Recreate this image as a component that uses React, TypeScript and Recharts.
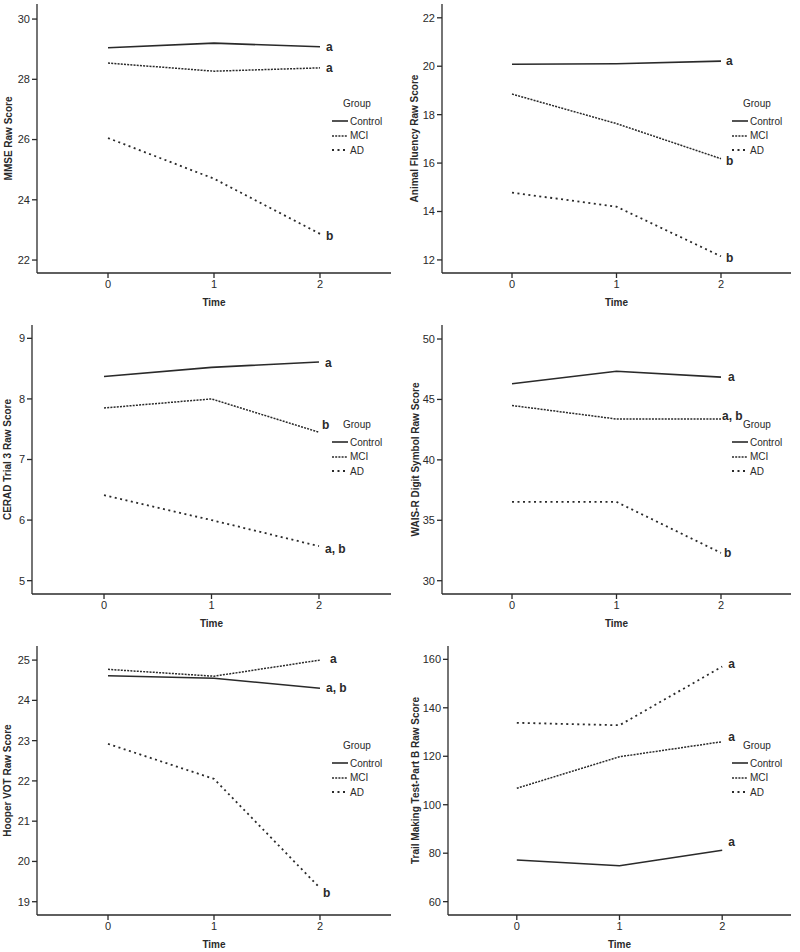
import { LineChart, Line, XAxis, YAxis, Legend, Label, LabelList } from "recharts"

const times = [0, 1, 2]
const groups = ["Control", "MCI", "AD"]

const mmseControl = [29.05, 29.2, 29.08]
const mmseMci = [28.54, 28.27, 28.38]
const mmseAd = [26.05, 24.7, 22.87]
const mmseTicks = [22, 24, 26, 28, 30]
const mmseLetters = ["a", "a", "b"]

const fluencyControl = [20.08, 20.1, 20.21]
const fluencyMci = [18.85, 17.63, 16.18]
const fluencyAd = [14.78, 14.2, 12.15]
const fluencyTicks = [12, 14, 16, 18, 20, 22]
const fluencyLetters = ["a", "b", "b"]

const ceradControl = [8.37, 8.52, 8.61]
const ceradMci = [7.85, 8.0, 7.45]
const ceradAd = [6.41, 6.0, 5.57]
const ceradTicks = [5, 6, 7, 8, 9]
const ceradLetters = ["a", "b", "a, b"]

const digitControl = [46.3, 47.33, 46.85]
const digitMci = [44.5, 43.38, 43.38]
const digitAd = [36.52, 36.52, 32.3]
const digitTicks = [30, 35, 40, 45, 50]
const digitLetters = ["a", "a, b", "b"]

const hooperControl = [24.61, 24.55, 24.3]
const hooperMci = [24.77, 24.6, 25.0]
const hooperAd = [22.92, 22.05, 19.34]
const hooperTicks = [19, 20, 21, 22, 23, 24, 25]
const hooperLetters = ["a, b", "a", "b"]

const trailsControl = [77.2, 74.8, 81.2]
const trailsMci = [106.8, 119.8, 126.0]
const trailsAd = [133.8, 132.8, 157.0]
const trailsTicks = [60, 80, 100, 120, 140, 160]
const trailsLetters = ["a", "a", "a"]

const FONT = "'Liberation Sans', Arial, sans-serif"
const INK = "#2a2a2a"

const seriesKeys = ["control", "mci", "ad"]
const seriesDash = [undefined, "2 1.2", "2 3.5"]
const seriesWidth = [1.6, 1.5, 1.8]

type Panel = {
  title: string
  values: number[][]
  ticks: number[]
  domain: [number, number]
  letters: string[]
  left: number
  top: number
  plotLeft: number
  titleX: number
  offsets: [number, number][]
}

const panels: Panel[] = [
  {
    title: "MMSE Raw Score",
    values: [mmseControl, mmseMci, mmseAd],
    ticks: mmseTicks,
    domain: [21.57, 30.5],
    letters: mmseLetters,
    left: 0,
    top: 0,
    plotLeft: 37,
    titleX: 8,
    offsets: [[6, 0], [6, 0], [6, 2]],
  },
  {
    title: "Animal Fluency Raw Score",
    values: [fluencyControl, fluencyMci, fluencyAd],
    ticks: fluencyTicks,
    domain: [11.46, 22.57],
    letters: fluencyLetters,
    left: 400,
    top: 0,
    plotLeft: 42,
    titleX: 14,
    offsets: [[5, 0], [5, 2], [5, 2]],
  },
  {
    title: "CERAD Trial 3 Raw Score",
    values: [ceradControl, ceradMci, ceradAd],
    ticks: ceradTicks,
    domain: [4.78, 9.22],
    letters: ceradLetters,
    left: 0,
    top: 321,
    plotLeft: 32,
    titleX: 7,
    offsets: [[6, 1], [3, -7], [6, 3]],
  },
  {
    title: "WAIS-R Digit Symbol Raw Score",
    values: [digitControl, digitMci, digitAd],
    ticks: digitTicks,
    domain: [28.9, 51.16],
    letters: digitLetters,
    left: 400,
    top: 321,
    plotLeft: 42,
    titleX: 15,
    offsets: [[7, 0], [1, -3], [3, 0]],
  },
  {
    title: "Hooper VOT Raw Score",
    values: [hooperControl, hooperMci, hooperAd],
    ticks: hooperTicks,
    domain: [18.67, 25.35],
    letters: hooperLetters,
    left: 0,
    top: 642,
    plotLeft: 37,
    titleX: 7,
    offsets: [[6, 0], [10, -1], [3, 5]],
  },
  {
    title: "Trail Making Test-Part B Raw Score",
    values: [trailsControl, trailsMci, trailsAd],
    ticks: trailsTicks,
    domain: [54.5, 165.5],
    letters: trailsLetters,
    left: 400,
    top: 642,
    plotLeft: 48,
    titleX: 15,
    offsets: [[6, -8], [6, -5], [6, -3]],
  },
]

const W = 400
const H = 310
const PLOT_TOP = 4
const PLOT_BOTTOM = 273
const PLOT_RIGHT = 391

function GroupLegend() {
  return (
    <div style={{ fontFamily: FONT, fontSize: 10, color: INK }}>
      <div style={{ paddingLeft: 11, height: 17, lineHeight: "14px" }}>Group</div>
      {groups.map((g, i) => (
        <div key={g} style={{ display: "flex", alignItems: "center", height: 14.5 }}>
          <svg width={16} height={4}>
            <line x1={0} x2={16} y1={2} y2={2} stroke={INK} strokeWidth={seriesWidth[i]} strokeDasharray={seriesDash[i]} />
          </svg>
          <span style={{ marginLeft: 2 }}>{g}</span>
        </div>
      ))}
    </div>
  )
}

const sigLabel = (text: string, dx: number, dy: number) => (props: any) => {
  if (props.index !== 2) return null
  const x = props.viewBox?.x ?? props.x
  const y = props.viewBox?.y ?? props.y
  return (
    <text x={x + dx} y={y + dy} dominantBaseline="central" fontSize={12} fontWeight="bold" fill={INK} fontFamily={FONT}>
      {text}
    </text>
  )
}

function PanelChart({ p }: { p: Panel }) {
  const data = times.map((t, i) => ({
    time: t,
    control: p.values[0][i],
    mci: p.values[1][i],
    ad: p.values[2][i],
  }))
  const midY = (PLOT_TOP + PLOT_BOTTOM) / 2
  const midX = (p.plotLeft + PLOT_RIGHT) / 2
  return (
    <div style={{ position: "absolute", left: p.left, top: p.top, width: W, height: H }}>
      <LineChart width={W} height={H} data={data} margin={{ top: PLOT_TOP, right: W - PLOT_RIGHT, left: 0, bottom: 0 }}>
        <XAxis
          dataKey="time"
          type="number"
          domain={[-0.67, 2.67]}
          ticks={times}
          allowDataOverflow
          height={H - PLOT_BOTTOM}
          stroke={INK}
          strokeWidth={1.3}
          tickSize={5}
          tick={{ fontSize: 11, fill: INK, fontFamily: FONT }}
        >
          <Label
            content={() => (
              <text x={midX} y={302} textAnchor="middle" dominantBaseline="central" fontSize={10} fontWeight="bold" fill={INK} fontFamily={FONT}>
                Time
              </text>
            )}
          />
        </XAxis>
        <YAxis
          type="number"
          domain={p.domain}
          ticks={p.ticks}
          allowDataOverflow
          width={p.plotLeft}
          stroke={INK}
          strokeWidth={1.3}
          tickSize={5}
          tick={{ fontSize: 11, fill: INK, fontFamily: FONT }}
        >
          <Label
            content={() => (
              <text
                x={p.titleX}
                y={midY}
                transform={`rotate(-90 ${p.titleX} ${midY})`}
                textAnchor="middle"
                dominantBaseline="central"
                fontSize={10}
                fontWeight="bold"
                fill={INK}
                fontFamily={FONT}
              >
                {p.title}
              </text>
            )}
          />
        </YAxis>
        <Legend
          layout="vertical"
          align="center"
          verticalAlign="middle"
          wrapperStyle={{ left: 332, top: 97, width: 70 }}
          content={() => <GroupLegend />}
        />
        {seriesKeys.map((k, i) => (
          <Line
            key={k}
            dataKey={k}
            name={groups[i]}
            type="linear"
            stroke={INK}
            strokeWidth={seriesWidth[i]}
            strokeDasharray={seriesDash[i]}
            dot={false}
            activeDot={false}
            isAnimationActive={false}
          >
            <LabelList dataKey={k} content={sigLabel(p.letters[i], p.offsets[i][0], p.offsets[i][1])} />
          </Line>
        ))}
      </LineChart>
    </div>
  )
}

export default function App() {
  return (
    <div style={{ position: "absolute", left: 0, top: 0, width: 800, height: 952, background: "#fff" }}>
      {panels.map((p) => (
        <PanelChart key={p.title} p={p} />
      ))}
    </div>
  )
}
